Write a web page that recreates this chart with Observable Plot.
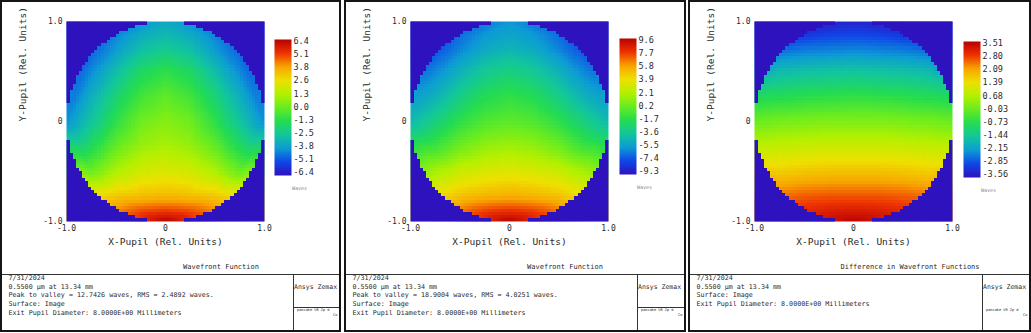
<!DOCTYPE html>
<html><head><meta charset="utf-8">
<script src="https://cdn.jsdelivr.net/npm/d3@7"></script>
<script src="https://cdn.jsdelivr.net/npm/@observablehq/plot@0.6"></script>
<style>
html,body{margin:0;padding:0;background:#fff;}
body{width:1031px;height:333px;overflow:hidden;position:relative;font-family:"DejaVu Sans Mono",monospace;}
.panel{position:absolute;top:0;height:333px;overflow:hidden;}
.box{position:absolute;left:0;top:0;height:332px;border:2px solid #151515;box-sizing:border-box;}
.ln{position:absolute;background:#333;}
.t{position:absolute;white-space:pre;line-height:1;color:#2a2a2a;}
.panel svg{position:absolute;top:0;overflow:visible;}
</style></head><body>
<script>
// ---------- data ----------
const gridX = [-1, -0.75, -0.5, -0.25, 0, 0.25, 0.5, 0.75, 1];
const gridY = [1, 0.875, 0.75, 0.5, 0.25, 0, -0.25, -0.5, -0.75, -0.875, -1];
const _ = null;
// wavefront (waves), panel 1
const wave1 = [
  [_, _, _, _, -3.4, _, _, _, _],
  [_, _, -4.2, -3.4, -3.0, -3.4, -4.2, _, _],
  [_, -4.8, -3.9, -2.9, -2.5, -2.9, -3.9, -4.8, _],
  [_, -4.1, -2.8, -1.6, -1.1, -1.6, -2.8, -4.1, _],
  [_, -3.3, -1.9, -0.7, -0.2, -0.7, -1.9, -3.3, _],
  [-4.0, -2.6, -1.1, 0.1, 0.5, 0.1, -1.1, -2.6, -4.0],
  [_, -1.5, -0.1, 0.8, 1.1, 0.8, -0.1, -1.5, _],
  [_, 0.0, 1.2, 1.9, 2.1, 1.9, 1.2, 0.0, _],
  [_, 2.6, 3.1, 3.3, 3.4, 3.3, 3.1, 2.6, _],
  [_, _, 4.0, 4.6, 4.8, 4.6, 4.0, _, _],
  [_, _, _, _, 6.3, _, _, _, _]
];
// panel 2
const wave2 = [
  [_, _, _, _, -5.6, _, _, _, _],
  [_, _, -6.6, -5.6, -5.2, -5.6, -6.6, _, _],
  [_, -7.4, -6.2, -5.1, -4.6, -5.1, -6.2, -7.4, _],
  [_, -6.0, -4.6, -3.4, -2.9, -3.4, -4.6, -6.0, _],
  [_, -4.6, -3.1, -1.9, -1.4, -1.9, -3.1, -4.6, _],
  [-4.2, -2.9, -1.5, -0.5, -0.2, -0.5, -1.5, -2.9, -4.2],
  [_, -1.1, 0.3, 1.2, 1.5, 1.2, 0.3, -1.1, _],
  [_, 1.7, 2.7, 3.2, 3.4, 3.2, 2.7, 1.7, _],
  [_, 4.0, 4.9, 5.3, 5.5, 5.3, 4.9, 4.0, _],
  [_, _, 6.4, 7.2, 7.5, 7.2, 6.4, _, _],
  [_, _, _, _, 9.5, _, _, _, _]
];
// panel 3 (difference)
const wave3 = [
  [_, _, _, _, -3.3, _, _, _, _],
  [_, _, -3.1, -2.95, -2.9, -2.95, -3.1, _, _],
  [_, -2.7, -2.55, -2.5, -2.45, -2.5, -2.55, -2.7, _],
  [_, -1.65, -1.55, -1.5, -1.45, -1.5, -1.55, -1.65, _],
  [_, -0.8, -0.7, -0.65, -0.6, -0.65, -0.7, -0.8, _],
  [0.0, 0.1, 0.15, 0.2, 0.2, 0.2, 0.15, 0.1, 0.0],
  [_, 0.85, 0.9, 0.95, 0.95, 0.95, 0.9, 0.85, _],
  [_, 1.6, 1.7, 1.75, 1.75, 1.75, 1.7, 1.6, _],
  [_, 2.45, 2.55, 2.6, 2.6, 2.6, 2.55, 2.45, _],
  [_, _, 2.9, 3.0, 3.05, 3.0, 2.9, _, _],
  [_, _, _, _, 3.45, _, _, _, _]
];
const range1 = [-6.37, 6.37];
const range2 = [-9.3, 9.6];
const range3 = [-3.56, 3.51];
const legend1 = ["6.4", "5.1", "3.8", "2.6", "1.3", "0.0", "-1.3", "-2.5", "-3.8", "-5.1", "-6.4"];
const legend2 = ["9.6", "7.7", "5.8", "3.9", "2.1", "0.2", "-1.7", "-3.6", "-5.5", "-7.4", "-9.3"];
const legend3 = ["3.51", "2.80", "2.09", "1.39", "0.68", "-0.03", "-0.73", "-1.44", "-2.15", "-2.85", "-3.56"];
const pupilTicks = [-1, 0, 1];
const pupilTickLabels = ["-1.0", "0", "1.0"];
const xTitle = "X-Pupil (Rel. Units)";
const yTitle = "Y-Pupil (Rel. Units)";
const titles = ["Wavefront Function", "Wavefront Function", "Difference in Wavefront Functions"];
const info1 = ["7/31/2024", "0.5500 µm at 13.34 mm", "Peak to valley = 12.7426 waves, RMS = 2.4892 waves.", "Surface: Image", "Exit Pupil Diameter: 8.0000E+00 Millimeters"];
const info2 = ["7/31/2024", "0.5500 µm at 13.34 mm", "Peak to valley = 18.9004 waves, RMS = 4.0251 waves.", "Surface: Image", "Exit Pupil Diameter: 8.0000E+00 Millimeters"];
const info3 = ["7/31/2024", "0.5500 µm at 13.34 mm", "Surface: Image", "Exit Pupil Diameter: 8.0000E+00 Millimeters"];

// ---------- style ----------
const zemaxColors = ["#2d12be", "#1046e8", "#0c9cd4", "#12c69c", "#24dc50", "#68ec20", "#b4f000", "#eee000", "#f8a400", "#ee3200", "#b80000"];
const zemaxInterp = d3.piecewise(d3.interpolateRgb, zemaxColors);

function mapPlot(matrix, range) {
  const pts = [];
  gridY.forEach((y, i) => gridX.forEach((x, j) => {
    const v = matrix[i][j];
    if (v != null) pts.push({x, y, v});
  }));
  const vmin = range[0];
  return Plot.plot({
    width: 340, height: 260,
    marginLeft: 66, marginRight: 76, marginTop: 21, marginBottom: 39,
    x: {domain: [-1, 1]},
    y: {domain: [-1, 1]},
    color: {type: "linear", domain: range, interpolate: zemaxInterp},
    style: {fontFamily: "DejaVu Sans Mono", color: "#2a2a2a", background: "transparent", overflow: "visible"},
    marks: [
      Plot.raster(pts, {x: "x", y: "y", fill: "v", x1: -1, x2: 1, y1: -1, y2: 1, width: 64, height: 64,
        interpolate: "barycentric", imageRendering: "pixelated"}),
      Plot.raster({x1: -1, x2: 1, y1: -1, y2: 1, width: 64, height: 64, imageRendering: "pixelated",
        fill: (x, y) => (x * x + y * y > 1 ? vmin : NaN)}),
      Plot.axisX(pupilTicks, {tickSize: 0, tickPadding: 4, fontSize: 8, label: null,
        tickFormat: (d) => pupilTickLabels[pupilTicks.indexOf(d)]}),
      Plot.axisY(pupilTicks, {tickSize: 0, tickPadding: 4, fontSize: 8, label: null,
        tickFormat: (d) => pupilTickLabels[pupilTicks.indexOf(d)]}),
      Plot.text([xTitle], {frameAnchor: "bottom", dy: 23, fontSize: 9.5, fill: "#2a2a2a"}),
      Plot.text([yTitle], {frameAnchor: "left", dx: -44, rotate: -90, fontSize: 9.5, fill: "#2a2a2a"})
    ]
  });
}

function colorbar(labels, top, bottom) {
  const lo = -0.25, hi = 10.15;
  return Plot.plot({
    width: 17 + 40, height: bottom + 5,
    marginLeft: 0, marginRight: 40, marginTop: top, marginBottom: 5,
    x: {domain: [0, 1], axis: null},
    y: {domain: [lo, hi]},
    color: {type: "linear", domain: [lo, hi], interpolate: zemaxInterp},
    style: {fontFamily: "DejaVu Sans Mono", color: "#2a2a2a", background: "transparent", overflow: "visible"},
    marks: [
      Plot.raster({x1: 0, x2: 1, y1: lo, y2: hi, width: 1, height: 136, fill: (x, y) => y}),
      Plot.axisY(d3.range(11), {anchor: "right", tickSize: 0, tickPadding: 2, fontSize: 8.5, label: null,
        tickFormat: (i) => labels[10 - i]})
    ]
  });
}

function el(parent, cls, css, text) {
  const d = document.createElement("div");
  d.className = cls;
  Object.assign(d.style, css);
  if (text != null) d.textContent = text;
  parent.appendChild(d);
  return d;
}

const panels = [
  {left: 0, w: 341, wave: wave1, range: range1, legend: legend1, info: info1, title: titles[0], cbx: 274, cbt: 39, cbb: 175, div: 293, rbox: true, titleX: 221},
  {left: 344, w: 342, wave: wave2, range: range2, legend: legend2, info: info2, title: titles[1], cbx: 275, cbt: 38, cbb: 174, div: 293, rbox: true, titleX: 221},
  {left: 688, w: 343, wave: wave3, range: range3, legend: legend3, info: info3, title: titles[2], cbx: 275, cbt: 41, cbb: 177, div: 294, rbox: false, titleX: 222}
];

panels.forEach((p) => {
  const pan = el(document.body, "panel", {left: p.left + "px", width: p.w + "px"});
  el(pan, "box", {width: p.w + "px"});
  const svg = mapPlot(p.wave, p.range);
  svg.style.left = "0px";
  pan.appendChild(svg);
  const cb = colorbar(p.legend, p.cbt, p.cbb);
  cb.style.left = p.cbx + "px";
  pan.appendChild(cb);
  el(pan, "t", {left: (p.cbx + 18) + "px", top: (p.cbb + 11) + "px", fontSize: "5px", color: "#888"}, "Waves");
  // footer
  el(pan, "ln", {left: "2px", top: "274px", width: (p.w - 4) + "px", height: "1px"});
  el(pan, "ln", {left: p.div + "px", top: "274px", width: "1px", height: "56px"});
  if (p.rbox) el(pan, "ln", {left: p.div + "px", top: "307px", width: (p.w - p.div - 2) + "px", height: "1px"});
  el(pan, "t", {left: p.titleX + "px", top: "264px", fontSize: "7px", transform: "translateX(-50%)"}, p.title);
  p.info.forEach((s, i) => {
    el(pan, "t", {left: "8.5px", top: (275 + i * 8.65) + "px", fontSize: "6.7px"}, s);
  });
  el(pan, "t", {left: (p.div + 1) + "px", top: "284px", fontSize: "6.5px"}, "Ansys Zemax");
  el(pan, "t", {left: (p.div + 4) + "px", top: "308.5px", fontSize: "3.6px"}, "pancake VR 2p d");
  el(pan, "t", {left: (p.w - 8) + "px", top: "314px", fontSize: "3.6px"}, "Co");
});
</script>
</body></html>
